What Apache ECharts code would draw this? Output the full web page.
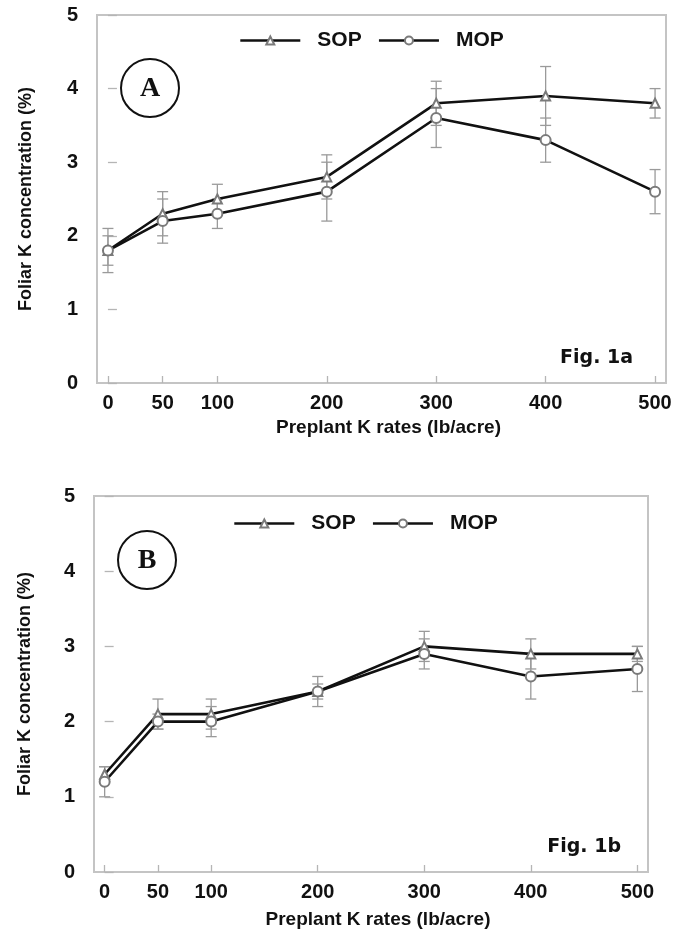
<!DOCTYPE html>
<html>
<head>
<meta charset="utf-8">
<script src="https://cdn.jsdelivr.net/npm/echarts@6/dist/echarts.min.js"></script>
<style>
html,body{margin:0;padding:0;background:#fff;}
#c{width:687px;height:931px;}
</style>
</head>
<body>
<div id="c"></div>
<script>
// ---- data ----
const rates = [0, 50, 100, 200, 300, 400, 500];
const yTicks = [0, 1, 2, 3, 4, 5];
// Fig. 1a
const sopA = [1.8, 2.3, 2.5, 2.8, 3.8, 3.9, 3.8];
const mopA = [1.8, 2.2, 2.3, 2.6, 3.6, 3.3, 2.6];
const sopAErr = [0.2, 0.3, 0.2, 0.3, 0.3, 0.4, 0.2];
const mopAErr = [0.3, 0.3, 0.2, 0.4, 0.4, 0.3, 0.3];
// Fig. 1b
const sopB = [1.3, 2.1, 2.1, 2.4, 3.0, 2.9, 2.9];
const mopB = [1.2, 2.0, 2.0, 2.4, 2.9, 2.6, 2.7];
const sopBErr = [0.1, 0.2, 0.2, 0.2, 0.2, 0.2, 0.1];
const mopBErr = [0.2, 0.1, 0.2, 0.1, 0.2, 0.3, 0.3];

const seriesNames = ['SOP', 'MOP'];
const xTitle = 'Preplant K rates (lb/acre)';
const yTitle = 'Foliar K concentration (%)';

// ---- helpers ----
const SANS = '"Liberation Sans", Arial, sans-serif';
const FRAME = '#c4c4c4';
function pairs(vals) { return rates.map((r, i) => [r, vals[i]]); }
function errData(vals, errs) { return rates.map((r, i) => [r, vals[i] - errs[i], vals[i] + errs[i]]); }

function errSeries(idx, vals, errs) {
  return {
    type: 'custom', xAxisIndex: idx, yAxisIndex: idx, z: 1, silent: true,
    data: errData(vals, errs),
    encode: { x: 0, y: [1, 2] },
    renderItem: function (params, api) {
      const x = api.value(0);
      const lo = api.coord([x, api.value(1)]);
      const hi = api.coord([x, api.value(2)]);
      const w = 5.5;
      const st = { stroke: '#9a9a9a', lineWidth: 1.3 };
      return { type: 'group', children: [
        { type: 'line', shape: { x1: lo[0], y1: lo[1], x2: hi[0], y2: hi[1] }, style: st },
        { type: 'line', shape: { x1: lo[0] - w, y1: lo[1], x2: lo[0] + w, y2: lo[1] }, style: st },
        { type: 'line', shape: { x1: hi[0] - w, y1: hi[1], x2: hi[0] + w, y2: hi[1] }, style: st }
      ]};
    }
  };
}
function lineSeries(idx, name, vals, symbol) {
  return {
    type: 'line', name: name, xAxisIndex: idx, yAxisIndex: idx, z: 3,
    data: pairs(vals),
    symbol: symbol, symbolSize: symbol === 'emptyCircle' ? 10 : 9,
    showAllSymbol: true,
    lineStyle: { color: '#111', width: 2.6 },
    itemStyle: { color: '#7a7a7a', borderColor: '#7a7a7a', borderWidth: 1.2 },
    emphasis: { disabled: true },
    animation: false
  };
}
function xAxis(idx, gap) {
  return {
    type: 'value', gridIndex: idx, min: -10, max: 510,
    axisLine: { show: false },
    splitLine: { show: false },
    axisTick: { show: true, inside: true, length: 7, customValues: rates, lineStyle: { color: '#b5b5b5', width: 1.3 } },
    axisLabel: { customValues: rates, margin: 10, color: '#111', fontFamily: SANS, fontWeight: 'bold', fontSize: 20 },
    name: xTitle, nameLocation: 'middle', nameGap: gap,
    nameTextStyle: { color: '#111', fontFamily: SANS, fontWeight: 'bold', fontSize: 19, padding: [0, 0, 0, 14] }
  };
}
function yAxis(idx, gap) {
  return {
    type: 'value', gridIndex: idx, min: 0, max: 5, interval: 1,
    axisLine: { show: false },
    splitLine: { show: false },
    axisTick: { show: true, inside: true, length: 9, lineStyle: { color: '#b5b5b5', width: 1.3 } },
    axisLabel: { margin: 19, color: '#111', fontFamily: SANS, fontWeight: 'bold', fontSize: 20,
      formatter: v => (yTicks.indexOf(v) >= 0 ? String(v) : '') },
    name: yTitle, nameLocation: 'middle', nameGap: gap, nameRotate: 90,
    nameTextStyle: { color: '#111', fontFamily: SANS, fontWeight: 'bold', fontSize: 18 }
  };
}
function legend(left, top) {
  return {
    data: seriesNames,
    left: left, top: top, orient: 'horizontal',
    itemWidth: 60, itemHeight: 10, itemGap: 16,
    selectedMode: false,
    lineStyle: { color: '#111', width: 2.6 },
    textStyle: { color: '#111', fontFamily: SANS, fontWeight: 'bold', fontSize: 21, padding: [0, 0, 0, 12] }
  };
}
function badge(cx, cy, letter) {
  return [
    { type: 'circle', shape: { cx: cx, cy: cy, r: 29 }, style: { fill: 'rgba(0,0,0,0)', stroke: '#111', lineWidth: 2 }, z: 10 },
    { type: 'text', x: cx, y: cy + 1, style: { text: letter, fill: '#111', font: 'bold 28px "Liberation Serif", "Times New Roman", serif', align: 'center', verticalAlign: 'middle' }, z: 10 }
  ];
}
function figLabel(x, y, txt) {
  return { type: 'text', x: x, y: y, style: { text: txt, fill: '#111', font: 'bold 19px "DejaVu Sans", Verdana, sans-serif', align: 'right', verticalAlign: 'middle' }, z: 10 };
}

const chart = echarts.init(document.getElementById('c'), null, { renderer: 'canvas' });
chart.setOption({
  animation: false,
  backgroundColor: '#fff',
  grid: [
    { left: 97, right: 21, top: 15, height: 368, show: true, borderColor: FRAME, borderWidth: 2, backgroundColor: 'transparent' },
    { left: 94, right: 39, top: 496, height: 376, show: true, borderColor: FRAME, borderWidth: 2, backgroundColor: 'transparent' }
  ],
  xAxis: [xAxis(0, 35), xAxis(1, 38)],
  yAxis: [yAxis(0, 62), yAxis(1, 60)],
  legend: [legend(234, 25), legend(228, 508)],
  series: [
    errSeries(0, sopA, sopAErr),
    errSeries(0, mopA, mopAErr),
    lineSeries(0, seriesNames[0], sopA, 'emptyTriangle'),
    lineSeries(0, seriesNames[1], mopA, 'emptyCircle'),
    errSeries(1, sopB, sopBErr),
    errSeries(1, mopB, mopBErr),
    lineSeries(1, seriesNames[0], sopB, 'emptyTriangle'),
    lineSeries(1, seriesNames[1], mopB, 'emptyCircle')
  ],
  graphic: [].concat(
    badge(150, 88, 'A'),
    badge(147, 560, 'B'),
    [figLabel(633, 358, 'Fig. 1a'), figLabel(621, 847, 'Fig. 1b')]
  )
});
</script>
</body>
</html>
